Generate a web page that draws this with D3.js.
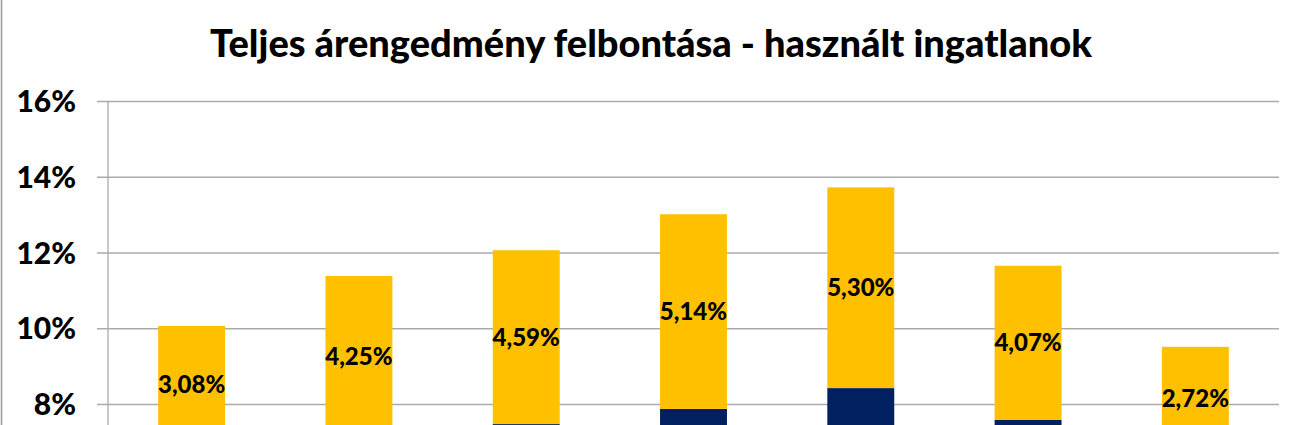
<!DOCTYPE html><html><head><meta charset="utf-8">
<script src="https://cdn.jsdelivr.net/npm/d3@7"></script>
<style>body{margin:0;overflow:hidden;background:#fff}svg{display:block}</style></head><body>
<script>
const categories=["A","B","C","D","E","F","G"];
const baseValues=[6.98,7.13,7.47,7.87,8.42,7.58,6.79];
const discountValues=[3.08,4.25,4.59,5.14,5.30,4.07,2.72];
const discountLabels=["3,08%","4,25%","4,59%","5,14%","5,30%","4,07%","2,72%"];
const yTicks=[8,10,12,14,16];
const W=1301,H=800;
const svg=d3.select("body").append("svg").attr("width",W).attr("height",H);
svg.append("rect").attr("x",1.5).attr("y",-5).attr("width",W+10).attr("height",H+10).attr("fill","none").attr("stroke","#999").attr("stroke-width",1.5);
const y=d3.scaleLinear().domain([0,16]).range([707,101]);
const x=d3.scaleBand().domain(categories).range([108,1279]).paddingInner(0.6).paddingOuter(0.3);
const font="Lato, 'Open Sans', sans-serif";
svg.append("text").attr("x",651).attr("y",57).attr("text-anchor","middle").attr("font-family",font).attr("font-weight",900).attr("font-size",38).text("Teljes árengedmény felbontása - használt ingatlanok");
const ax=svg.append("g").attr("transform","translate(108,0)").call(d3.axisLeft(y).tickValues(yTicks).tickFormat(d=>d+"%").tickSizeOuter(0));
ax.select(".domain").remove();
ax.selectAll(".tick line").attr("x1",-11).attr("x2",1171).attr("stroke","#aaa").attr("stroke-width",1.3);
ax.selectAll(".tick text").attr("x",-32).attr("font-family",font).attr("font-weight",900).attr("font-size",30).attr("fill","#000").attr("dy","0.35em");
svg.append("line").attr("x1",108).attr("x2",108).attr("y1",y(16)).attr("y2",y(0)).attr("stroke","#aaa").attr("stroke-width",1.3);
const g=svg.append("g");
categories.forEach((c,i)=>{
  g.append("rect").attr("x",x(c)).attr("width",x.bandwidth()).attr("y",y(baseValues[i])).attr("height",y(0)-y(baseValues[i])).attr("fill","#002060");
  const t=baseValues[i]+discountValues[i];
  g.append("rect").attr("x",x(c)).attr("width",x.bandwidth()).attr("y",y(t)).attr("height",y(baseValues[i])-y(t)).attr("fill","#FFC000");
  g.append("text").attr("x",x(c)+x.bandwidth()/2).attr("y",y(baseValues[i]+discountValues[i]/2)).attr("dy","0.35em").attr("text-anchor","middle").attr("font-family",font).attr("font-weight",900).attr("font-size",24).text(discountLabels[i]);
});
</script></body></html>
